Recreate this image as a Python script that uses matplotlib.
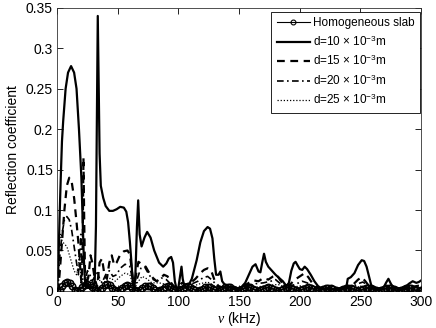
import numpy as np
import matplotlib
matplotlib.use('Agg')
import matplotlib.pyplot as plt

plt.rcParams['font.family'] = ['Liberation Sans', 'DejaVu Sans']
plt.rcParams['mathtext.fontset'] = 'custom'
plt.rcParams['mathtext.rm'] = 'Liberation Sans'
plt.rcParams['mathtext.it'] = 'Liberation Serif:italic'

f_h = np.linspace(0, 300, 146)
r_h = [0.0005, 0.0017, 0.0055, 0.0094, 0.011, 0.0094, 0.0055, 0.0017,
       0.0005, 0.0014, 0.0045, 0.0077, 0.009, 0.0077, 0.0045, 0.0014,
       0.0005, 0.0012, 0.004, 0.0068, 0.008, 0.0068, 0.004, 0.0012,
       0.0005, 0.0011, 0.0035, 0.006, 0.007, 0.006, 0.0035, 0.0011,
       0.0005, 0.001, 0.0033, 0.0055, 0.0065, 0.0055, 0.0033, 0.001,
       0.0005, 0.0009, 0.003, 0.0051, 0.006, 0.0051, 0.003, 0.0009,
       0.0005, 0.0008, 0.0028, 0.0047, 0.0055, 0.0047, 0.0028, 0.0008,
       0.0005, 0.0008, 0.0025, 0.0043, 0.005, 0.0043, 0.0025, 0.0008,
       0.0005, 0.0008, 0.0025, 0.0043, 0.005, 0.0043, 0.0025, 0.0008,
       0.0005, 0.0008, 0.0025, 0.0043, 0.005, 0.0043, 0.0025, 0.0008,
       0.0005, 0.0007, 0.0023, 0.0038, 0.0045, 0.0038, 0.0023, 0.0007,
       0.0005, 0.0007, 0.0023, 0.0038, 0.0045, 0.0038, 0.0023, 0.0007,
       0.0005, 0.0007, 0.0023, 0.0038, 0.0045, 0.0038, 0.0023, 0.0007,
       0.0005, 0.0006, 0.002, 0.0034, 0.004, 0.0034, 0.002, 0.0006,
       0.0005, 0.0006, 0.002, 0.0034, 0.004, 0.0034, 0.002, 0.0006,
       0.0005, 0.0006, 0.002, 0.0034, 0.004, 0.0034, 0.002, 0.0006,
       0.0005, 0.0006, 0.002, 0.0034, 0.004, 0.0034, 0.002, 0.0006,
       0.0005, 0.0006, 0.002, 0.0034, 0.004, 0.0034, 0.002, 0.0006,
       0.0005, 0.0006]

# d = 10e-3 m
f_10 = [0, 1, 2, 3, 4, 5, 7, 9, 11.5, 14, 16, 18, 20, 21, 22, 23, 24, 27, 30,
        31, 32, 33, 33.5, 34, 35, 36, 38, 40, 43, 46, 49, 52, 55, 57, 58.5,
        60, 61.5, 62.5, 63.5, 64.5, 65.8, 66.8, 68, 69.6, 72, 74.2, 77, 80,
        84, 87.4, 90, 92, 94, 95.5, 97, 98.5, 100, 101.5, 102.5, 103.5, 105,
        108, 111, 115, 118, 121, 124, 126, 128, 129.5, 131, 133, 134.5, 136,
        138, 142, 148, 152, 155, 158, 161, 163.5, 166, 167.5, 169, 170.5, 172,
        174, 177, 180, 183, 186, 189, 191, 193, 195, 196.5, 198, 200, 202,
        204, 206, 209, 212, 215, 218, 225, 232, 237, 238.5, 239.5, 242, 245,
        248, 251, 253, 255, 257, 259, 261, 265, 269, 271, 273, 275, 277, 283,
        287, 290, 293, 296, 298, 300]
r_10 = [0.0, 0.03, 0.09, 0.14, 0.185, 0.21, 0.25, 0.27, 0.278, 0.27, 0.25,
        0.2, 0.14, 0.09, 0.04, 0.012, 0.004, 0.004, 0.006, 0.012, 0.08, 0.25,
        0.34, 0.28, 0.17, 0.13, 0.115, 0.105, 0.099, 0.099, 0.101, 0.104,
        0.103, 0.098, 0.085, 0.06, 0.03, 0.008, 0.001, 0.02, 0.08, 0.112,
        0.07, 0.055, 0.066, 0.073, 0.066, 0.05, 0.035, 0.03, 0.034, 0.04,
        0.042, 0.035, 0.012, 0.002, 0.005, 0.02, 0.03, 0.015, 0.004, 0.006,
        0.015, 0.038, 0.06, 0.074, 0.079, 0.077, 0.065, 0.04, 0.02, 0.02,
        0.024, 0.012, 0.008, 0.005, 0.003, 0.005, 0.01, 0.02, 0.03, 0.033,
        0.024, 0.023, 0.035, 0.046, 0.036, 0.03, 0.025, 0.02, 0.016, 0.012,
        0.006, 0.01, 0.025, 0.034, 0.036, 0.032, 0.027, 0.026, 0.03, 0.027,
        0.02, 0.012, 0.006, 0.003, 0.002, 0.003, 0.004, 0.006, 0.015, 0.017,
        0.022, 0.032, 0.038, 0.037, 0.03, 0.018, 0.006, 0.002, 0.003, 0.004,
        0.01, 0.015, 0.009, 0.004, 0.003, 0.005, 0.009, 0.012, 0.01, 0.011,
        0.013]

# d = 15e-3 m
f_15 = [0, 1, 2, 4, 6, 8, 10, 12, 14, 16, 17.5, 19, 20, 21, 21.7, 22.3, 23,
        24, 26, 27.5, 29, 31, 33, 35, 37, 39, 41, 43, 45, 47, 49, 52, 55, 58,
        60, 62, 63.5, 65, 67, 70, 73, 76, 79, 82, 85, 88, 91, 94, 97, 100,
        103, 106, 110, 114, 118, 121, 124, 127, 130, 133, 137, 142, 148, 154,
        158, 162, 166, 170, 174, 178, 181, 184, 188, 192, 196, 200, 204, 207,
        211, 216, 225, 235, 240, 244, 248, 251, 254, 258, 265, 271, 274, 280,
        290, 296, 300]
r_15 = [0.0, 0.005, 0.02, 0.06, 0.1, 0.13, 0.14, 0.135, 0.115, 0.085, 0.06,
        0.03, 0.01, 0.05, 0.165, 0.09, 0.02, 0.005, 0.02, 0.044, 0.035, 0.015,
        0.005, 0.035, 0.04, 0.02, 0.015, 0.035, 0.044, 0.032, 0.035, 0.045,
        0.049, 0.05, 0.045, 0.02, 0.002, 0.02, 0.036, 0.033, 0.03, 0.022,
        0.016, 0.012, 0.015, 0.02, 0.018, 0.01, 0.004, 0.006, 0.01, 0.008,
        0.01, 0.015, 0.022, 0.026, 0.028, 0.025, 0.012, 0.006, 0.004, 0.003,
        0.004, 0.006, 0.01, 0.013, 0.012, 0.016, 0.014, 0.018, 0.02, 0.013,
        0.006, 0.008, 0.014, 0.018, 0.022, 0.017, 0.008, 0.003, 0.002, 0.003,
        0.006, 0.008, 0.014, 0.017, 0.012, 0.004, 0.002, 0.006, 0.004, 0.002,
        0.003, 0.006, 0.007]

# d = 20e-3 m
f_20 = [0, 1, 2, 4, 6, 8, 10, 12, 14, 16, 17.5, 18.5, 19.5, 20.5, 21.5, 23,
        25, 27, 29, 31, 33, 35, 37, 40, 43, 46, 49, 52, 56, 60, 62, 63.5, 66,
        69, 72, 75, 78, 82, 86, 90, 94, 98, 104, 110, 116, 120, 124, 128, 132,
        140, 150, 158, 164, 170, 176, 180, 184, 190, 196, 202, 206, 212, 220,
        235, 242, 248, 252, 256, 262, 275, 290, 300]
r_20 = [0.0, 0.01, 0.04, 0.07, 0.088, 0.092, 0.088, 0.075, 0.055, 0.035,
        0.02, 0.04, 0.07, 0.03, 0.005, 0.012, 0.025, 0.02, 0.012, 0.018,
        0.025, 0.015, 0.01, 0.02, 0.025, 0.018, 0.02, 0.028, 0.033, 0.03,
        0.015, 0.002, 0.015, 0.028, 0.03, 0.022, 0.015, 0.012, 0.016, 0.014,
        0.008, 0.004, 0.006, 0.008, 0.012, 0.016, 0.018, 0.013, 0.006, 0.003,
        0.004, 0.006, 0.009, 0.01, 0.012, 0.014, 0.009, 0.005, 0.008, 0.012,
        0.01, 0.005, 0.002, 0.002, 0.004, 0.009, 0.011, 0.007, 0.002, 0.003,
        0.002, 0.004]

# d = 25e-3 m
f_25 = [0, 0.7, 1.5, 2.5, 4, 6, 8, 10, 12, 14, 16, 17.5, 18.5, 19.5, 21, 23,
        25, 28, 31, 34, 37, 40, 44, 48, 52, 56, 60, 62, 63.5, 66, 70, 74, 78,
        84, 90, 96, 104, 112, 118, 124, 130, 140, 155, 165, 175, 182, 190,
        200, 206, 215, 240, 248, 252, 258, 280, 300]
r_25 = [0.0, 0.03, 0.06, 0.07, 0.062, 0.058, 0.055, 0.045, 0.035, 0.025,
        0.02, 0.03, 0.05, 0.02, 0.005, 0.01, 0.018, 0.012, 0.01, 0.015, 0.01,
        0.012, 0.016, 0.012, 0.018, 0.022, 0.02, 0.01, 0.002, 0.01, 0.018,
        0.015, 0.01, 0.01, 0.008, 0.004, 0.004, 0.006, 0.009, 0.011, 0.006,
        0.002, 0.003, 0.005, 0.007, 0.008, 0.004, 0.006, 0.006, 0.002, 0.002,
        0.005, 0.006, 0.002, 0.002, 0.003]

x_ticks = [0, 50, 100, 150, 200, 250, 300]
y_ticks = [0, 0.05, 0.1, 0.15, 0.2, 0.25, 0.3, 0.35]
y_labels = ['0', '0.05', '0.1', '0.15', '0.2', '0.25', '0.3', '0.35']

fig = plt.figure(figsize=(4.36, 3.28), dpi=100)
ax = fig.add_axes([0.131, 0.113, 0.835, 0.863])

h10, = ax.plot(f_10, r_10, '-', color='k', lw=1.6)
h15, = ax.plot(f_15, r_15, color='k', lw=1.6, ls=(0, (3.5, 2.5)))
h20, = ax.plot(f_20, r_20, color='k', lw=1.2, ls=(0, (4, 2, 1, 2)))
h25, = ax.plot(f_25, r_25, color='k', lw=0.9, ls=(0, (1, 1.5)))
hh, = ax.plot(f_h, r_h, '-', color='k', lw=1.2, marker='o', ms=4.6,
              mfc='none', mew=1.1, zorder=5)

ax.set_xlim(0, 300)
ax.set_ylim(0, 0.35)
ax.set_xticks(x_ticks)
ax.set_yticks(y_ticks)
ax.set_yticklabels(y_labels)
ax.tick_params(direction='in', top=True, right=True, length=4, width=0.6,
               labelsize=10, pad=3)
for s in ax.spines.values():
    s.set_linewidth(0.6)
    s.set_color('#333333')

ax.set_xlabel(r'$\nu$ (kHz)', fontsize=10, labelpad=1)
ax.set_ylabel('Reflection coefficient', fontsize=10, labelpad=4)

leg = ax.legend([hh, h10, h15, h20, h25],
                ['Homogeneous slab',
                 r'd=10$\,\times\,$10$^{-3}$m',
                 r'd=15$\,\times\,$10$^{-3}$m',
                 r'd=20$\,\times\,$10$^{-3}$m',
                 r'd=25$\,\times\,$10$^{-3}$m'],
                loc='upper right', bbox_to_anchor=(0.997, 0.985),
                fontsize=8.5, numpoints=1, handlelength=2.8,
                handletextpad=0.3, labelspacing=0.42, borderpad=0.45,
                borderaxespad=0.0, fancybox=False, framealpha=1,
                edgecolor='k')
leg.get_frame().set_linewidth(0.6)
for lh in leg.legend_handles[:1]:
    lh.set_markersize(3.5)
    lh.set_markeredgewidth(0.8)
    lh.set_linewidth(0.8)

fig.savefig('out.png', dpi=100)
